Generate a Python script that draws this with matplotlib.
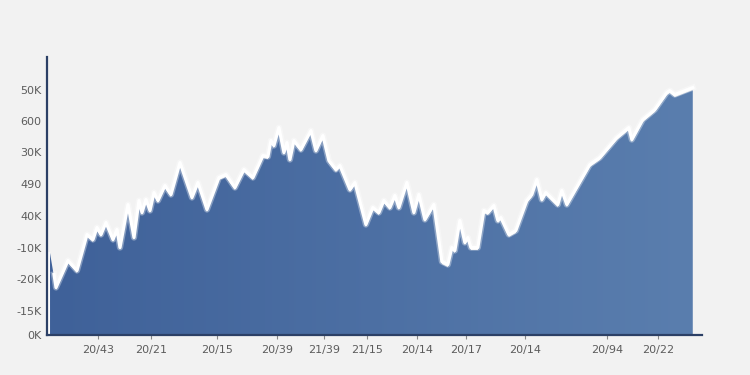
import matplotlib.pyplot as plt
import matplotlib.transforms as mtransforms
import numpy as np
from matplotlib.colors import LinearSegmentedColormap
from matplotlib.patches import Polygon

# series (x = time position, y = height above baseline)
t = [3, 7, 9, 21, 30, 40, 46, 50, 54, 59, 66, 70, 73, 81, 87, 92, 95, 99, 103,
     107, 111, 118, 124, 133, 145, 151, 160, 172, 179, 188, 197, 206, 216, 221,
     224, 227, 232, 237, 240, 243, 247, 254, 264, 269, 276, 282, 289, 293, 303,
     308, 319, 326, 332, 337, 343, 348, 352, 360, 367, 372, 378, 387, 395, 401,
     405, 408, 413, 418, 421, 424, 431, 437, 441, 447, 451, 454, 462, 469, 480,
     485, 490, 495, 499, 511, 515, 520, 543, 553, 570, 582, 585, 596, 608, 620,
     623, 628, 646]
value = [82, 58, 45, 72, 62, 98, 93, 105, 98, 110, 93, 103, 85, 128, 95, 132,
         120, 133, 122, 140, 132, 147, 138, 170, 135, 150, 123, 155, 158, 145,
         163, 155, 177, 176, 192, 187, 205, 180, 190, 173, 192, 183, 202, 182,
         197, 172, 163, 167, 143, 150, 108, 125, 120, 132, 125, 137, 125, 150,
         120, 138, 113, 128, 71, 68, 85, 82, 112, 90, 95, 85, 85, 122, 120, 127,
         112, 115, 98, 102, 132, 138, 153, 133, 140, 128, 142, 128, 168, 175,
         195, 205, 193, 213, 223, 240, 242, 238, 245]

x_ticks = [51, 104, 170, 230, 277, 320, 370, 419, 478, 560, 611]
x_labels = ["20/43", "20/21", "20/15", "20/39", "21/39", "21/15", "20/14",
            "20/17", "20/14", "20/94", "20/22"]
y_ticks = [0, 24, 56, 87, 119, 151, 183, 214, 245]
y_labels = ["0K", "-15K", "-20K", "-10K", "40K", "490", "30K", "600", "50K"]

BG = "#f2f2f2"
AXIS = "#2c4066"

fig = plt.figure(figsize=(7.5, 3.75), dpi=100, facecolor=BG)
ax = fig.add_axes([0.0627, 0.1067, 0.873, 0.741], facecolor=BG)
ax.set_xlim(0, 655)
ax.set_ylim(0, 278)

# area with a left-to-right colour gradient, clipped to the series outline
verts = [(t[0], 0)] + list(zip(t, value)) + [(t[-1], 0)]
area = Polygon(verts, closed=True, facecolor="none", edgecolor="none")
ax.add_patch(area)
cmap = LinearSegmentedColormap.from_list("blues", ["#3f6199", "#5a7eae"])
grad = np.linspace(0, 1, 256).reshape(1, -1)
img = ax.imshow(grad, cmap=cmap, aspect="auto", extent=[t[0], t[-1], 0, max(value)],
                origin="lower", zorder=1)
img.set_clip_path(area)

# white outline sits a little above the area edge, with a soft glow
lifted = mtransforms.offset_copy(ax.transData, fig=fig, y=2.5, units="dots")
ax.plot(t[1:], value[1:], color="white", lw=4.5, alpha=0.35, transform=lifted, zorder=2)
ax.plot(t[1:], value[1:], color="white", lw=2.3, transform=lifted, zorder=3)
ax.plot([t[0] - 1, t[0] - 1], [0, value[0]], color="white", lw=1.2, zorder=3)

for side in ("top", "right"):
    ax.spines[side].set_visible(False)
for side in ("left", "bottom"):
    ax.spines[side].set_color(AXIS)
    ax.spines[side].set_linewidth(1.6)
    ax.spines[side].set_zorder(4)

ax.set_xticks(x_ticks, x_labels)
ax.set_yticks(y_ticks, y_labels)
ax.tick_params(axis="x", length=3, width=0.8, color="#888888", labelsize=8,
               labelcolor="#5c5c5c", pad=4)
ax.tick_params(axis="y", length=0, labelsize=8, labelcolor="#5c5c5c", pad=4)

fig.savefig("out.png", dpi=100, facecolor=BG)
